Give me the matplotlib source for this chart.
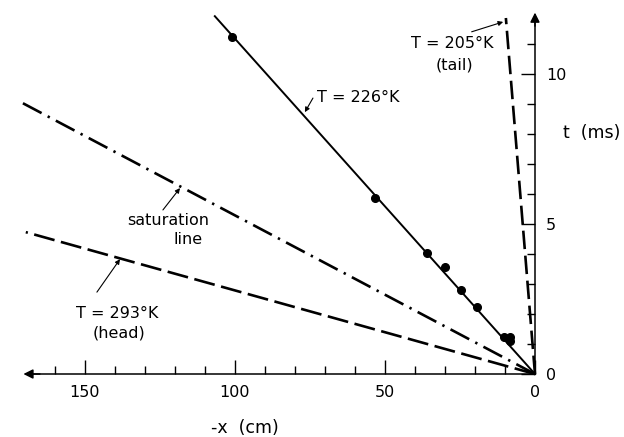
import matplotlib.pyplot as plt

# measured points on the T = 226 K line (x in cm, t in ms)
x_pts = [101, 53.3, 36, 30, 24.7, 19.3, 10.3, 8.3, 8.3]
t_pts = [11.23, 5.87, 4.03, 3.57, 2.8, 2.23, 1.23, 1.23, 1.1]

# straight lines from the origin, end points
fit_x, fit_t = [0, 106.7], [0, 11.93]      # T = 226 K
tail_x, tail_t = [0, 9.7], [0, 11.87]      # T = 205 K (tail)
sat_x, sat_t = [0, 170.7], [0, 9.03]       # saturation line
head_x, head_t = [0, 169.7], [0, 4.73]     # T = 293 K (head)

x_major = [0, 50, 100, 150]
x_minor = [10, 20, 30, 40, 60, 70, 80, 90, 110, 120, 130, 140, 160]
t_major = [0, 5, 10]
t_minor = [1, 2, 3, 4, 6, 7, 8, 9, 11]

plt.rcParams["font.family"] = ["DejaVu Sans"]
FS = 11.5

fig = plt.figure(figsize=(6.24, 4.37), dpi=100)
ax = fig.add_axes([0, 0, 1, 1])
ax.set_xlim(178.3, -29.67)
ax.set_ylim(-2.1, 12.47)

# axes through the origin, t axis on the right
for s in ["top", "left"]:
    ax.spines[s].set_visible(False)
ax.spines["bottom"].set_position(("data", 0))
ax.spines["right"].set_position(("data", 0))
ax.spines["bottom"].set_bounds(0, 168)
ax.spines["right"].set_bounds(0, 11.8)
for s in ["bottom", "right"]:
    ax.spines[s].set_linewidth(1.1)
ax.yaxis.tick_right()

ax.set_xticks(x_major)
ax.set_xticks(x_minor, minor=True)
ax.set_yticks(t_major)
ax.set_yticks(t_minor, minor=True)
ax.tick_params(axis="x", which="both", direction="in", width=1.0, pad=8,
               labelsize=FS)
ax.tick_params(axis="y", which="both", direction="in", width=1.0, pad=8,
               labelsize=FS)
ax.tick_params(which="major", length=10)
ax.tick_params(which="minor", length=6)
for lab in ax.get_yticklabels():
    lab.set_horizontalalignment("left")

# arrow heads on the axes
arrow = dict(arrowstyle="-|>", color="black", lw=1.1, mutation_scale=14,
             shrinkA=0, shrinkB=0)
ax.annotate("", xy=(170.5, 0), xytext=(165, 0), arrowprops=arrow)
ax.annotate("", xy=(0, 12.05), xytext=(0, 11.6), arrowprops=arrow)

ax.plot(fit_x, fit_t, color="black", lw=1.4)
ax.plot(x_pts, t_pts, "o", color="black", ms=5.5)
ax.plot(tail_x, tail_t, color="black", lw=1.9, linestyle=(0, (7, 2.5)))
ax.plot(sat_x, sat_t, color="black", lw=1.9,
        linestyle=(0, (8, 2.6, 0.9, 2.6)))
ax.plot(head_x, head_t, color="black", lw=1.9, linestyle=(0, (8, 2.5)))

small = dict(arrowstyle="-|>", color="black", lw=0.8, mutation_scale=7,
             shrinkA=0, shrinkB=0)
ax.annotate("", xy=(76.7, 8.73), xytext=(74, 9.2), arrowprops=small)
ax.text(72.7, 9.23, "T = 226°K", fontsize=FS, ha="left", va="center")

ax.annotate("", xy=(10.6, 11.74), xytext=(21.1, 11.41), arrowprops=small)
ax.text(27.5, 11.02, "T = 205°K", fontsize=FS, ha="center", va="center")
ax.text(26.7, 10.3, "(tail)", fontsize=FS, ha="center", va="center")

ax.annotate("", xy=(118.3, 6.2), xytext=(124, 5.47), arrowprops=small)
ax.text(122.2, 5.13, "saturation", fontsize=FS, ha="center", va="center")
ax.text(115.7, 4.47, "line", fontsize=FS, ha="center", va="center")

ax.annotate("", xy=(138.3, 3.83), xytext=(146, 2.73), arrowprops=small)
ax.text(139.2, 2.03, "T = 293°K", fontsize=FS, ha="center", va="center")
ax.text(138.8, 1.37, "(head)", fontsize=FS, ha="center", va="center")

ax.text(-19, 8.03, "t  (ms)", fontsize=FS + 1, ha="center", va="center")
ax.text(96.7, -1.8, "-x  (cm)", fontsize=FS + 1, ha="center", va="center")

fig.savefig("out.png", dpi=100, facecolor="white")
